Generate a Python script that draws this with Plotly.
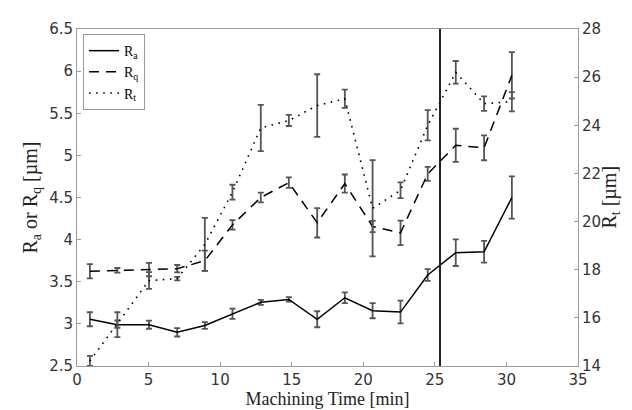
import plotly.graph_objects as go

time_min = [0.9, 2.82, 5.03, 7.0, 8.93, 10.86, 12.84, 14.8, 16.78, 18.71, 20.65, 22.6, 24.5, 26.46, 28.44, 30.38]

ra = [3.055, 2.99, 2.99, 2.90, 2.98, 3.12, 3.256, 3.29, 3.055, 3.31, 3.157, 3.14, 3.58, 3.845, 3.856, 4.50]
ra_err = [0.083, 0.148, 0.048, 0.05, 0.04, 0.06, 0.03, 0.027, 0.095, 0.063, 0.09, 0.135, 0.07, 0.158, 0.13, 0.25]

rq = [3.625, 3.636, 3.645, 3.655, 3.75, 4.175, 4.50, 4.677, 4.20, 4.665, 4.156, 4.08, 4.78, 5.12, 5.09, 5.95]
rq_err = [0.084, 0.027, 0.08, 0.044, 0.12, 0.057, 0.057, 0.063, 0.175, 0.108, 0.066, 0.146, 0.083, 0.196, 0.148, 0.275]

rt = [14.21, 15.74, 17.55, 17.63, 19.05, 21.22, 23.89, 24.2, 24.82, 25.1, 20.55, 21.3, 24.0, 26.2, 24.9, 24.98]
rt_err = [0.21, 0.15, 0.35, 0.07, 1.1, 0.31, 0.96, 0.23, 1.3, 0.38, 2.0, 0.33, 0.63, 0.47, 0.3, 0.4]

vline_x = [25.36]

x_ticks = [0, 5, 10, 15, 20, 25, 30, 35]
y_left_ticks = [2.5, 3, 3.5, 4, 4.5, 5, 5.5, 6, 6.5]
y_right_ticks = [14, 16, 18, 20, 22, 24, 26, 28]

SERIF = "Liberation Serif"
SANS = "DejaVu Sans"
ERR_COLOR = "#555555"
AX_COLOR = "#9a9a9a"

def err(vals):
    return dict(type="data", array=vals, visible=True, color=ERR_COLOR, thickness=1.8, width=3)

fig = go.Figure()
fig.add_trace(go.Scatter(x=time_min, y=ra, mode="lines", name="R<sub>a</sub>",
                         line=dict(color="black", width=1.5), error_y=err(ra_err)))
fig.add_trace(go.Scatter(x=time_min, y=rq, mode="lines", name="R<sub>q</sub>",
                         line=dict(color="black", width=1.5, dash="10px,7px"), error_y=err(rq_err)))
fig.add_trace(go.Scatter(x=time_min, y=rt, mode="lines", name="R<sub>t</sub>", yaxis="y2",
                         line=dict(color="black", width=1.6, dash="1.6px,5.5px"), error_y=err(rt_err)))

fig.add_shape(type="line", xref="x", yref="paper", x0=vline_x[0], x1=vline_x[0], y0=0, y1=1,
              line=dict(color="#222222", width=2))

fig.add_annotation(text="R<sub>t</sub> [µm]", xref="paper", yref="paper", x=1.064, y=0.5,
                   xanchor="center", yanchor="middle", textangle=-90, showarrow=False,
                   font=dict(family=SERIF, size=20, color="#222222"))

fig.update_layout(
    width=632, height=410,
    margin=dict(l=69, r=62, t=16, b=43),
    paper_bgcolor="white", plot_bgcolor="white",
    showlegend=True,
    legend=dict(x=0.012, y=0.985, xanchor="left", yanchor="top",
                bordercolor=AX_COLOR, borderwidth=1, bgcolor="white",
                font=dict(family=SERIF, size=14, color="black"),
                itemwidth=30, tracegroupgap=0),
    xaxis=dict(range=[0, 35], tickvals=x_ticks, ticks="inside", ticklen=4, tickcolor=AX_COLOR,
               showline=True, linecolor=AX_COLOR, linewidth=1, mirror=True, showgrid=False, zeroline=False,
               tickfont=dict(family=SANS, size=15, color="#333333"),
               title=dict(text="Machining Time [min]", font=dict(family=SERIF, size=18, color="#222222"), standoff=4)),
    yaxis=dict(range=[2.5, 6.5], tickvals=y_left_ticks, ticks="inside", ticklen=4, tickcolor=AX_COLOR,
               showline=True, linecolor=AX_COLOR, linewidth=1, showgrid=False, zeroline=False,
               tickfont=dict(family=SANS, size=15, color="#333333"),
               title=dict(text="R<sub>a</sub> or R<sub>q</sub> [µm]", font=dict(family=SERIF, size=20, color="#222222"), standoff=6)),
    yaxis2=dict(range=[14, 28], tickvals=y_right_ticks, ticks="inside", ticklen=4, tickcolor=AX_COLOR,
                overlaying="y", side="right",
                showline=True, linecolor=AX_COLOR, linewidth=1, showgrid=False, zeroline=False,
                tickfont=dict(family=SANS, size=15, color="#333333")),
)

fig.write_html("out.html")
